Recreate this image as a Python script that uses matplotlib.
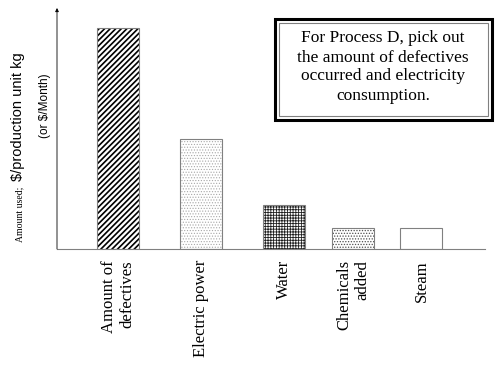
import matplotlib.pyplot as plt
from matplotlib.patches import Rectangle

plt.rcParams['text.parse_math'] = False

categories = ['Amount of\ndefectives', 'Electric power', 'Water', 'Chemicals\nadded', 'Steam']
values = [221, 110, 44, 21, 21]
xpos = [61, 144, 226.5, 296.5, 364.5]
hatches = ['//////', '......', '++++++', '......', '']
hcolors = ['#000000', '#a8a8a8', '#202020', '#505050', '#000000']
hlw = [1.2, 0.5, 0.6, 0.6, 0.5]

serif = 'Liberation Serif'
sans = 'Liberation Sans'

fig = plt.figure(figsize=(5, 3.66), dpi=100)
ax = fig.add_axes([57/500, 1-249/366, 428/500, 241/366])

for x, v, h, c, lw in zip(xpos, values, hatches, hcolors, hlw):
    # hatch takes the edge colour, so draw the hatch and the outline separately
    b = ax.bar(x, v, width=42, color='white', edgecolor=c, hatch=h, linewidth=0)
    b[0].set_hatch_linewidth(lw)
    ax.bar(x, v, width=42, fill=False, edgecolor='#808080', linewidth=0.8)

ax.set_xlim(0, 428)
ax.set_ylim(0, 241)
for s in ['top', 'right', 'left']:
    ax.spines[s].set_visible(False)
ax.spines['bottom'].set_color('#808080')
ax.annotate('', xy=(0, 1), xytext=(0, 0), xycoords='axes fraction',
            arrowprops=dict(arrowstyle='-|>', color='black', lw=0.6,
                            mutation_scale=5, shrinkA=0, shrinkB=0))
ax.set_xticks(xpos)
ax.set_xticklabels(categories, rotation=90, fontfamily=serif, fontsize=12,
                   va='top', ha='center', multialignment='right')
ax.tick_params(axis='x', length=0, pad=8)
ax.set_yticks([])

# y label pieces
fig.text(20/500, 1-214/366, 'Amount used;', rotation=90, fontfamily=serif,
         fontsize=7, ha='center', va='center')
fig.text(18/500, 1-117/366, '$/production unit kg', rotation=90, fontfamily=sans,
         fontsize=10.5, ha='center', va='center')
fig.text(45/500, 1-106/366, '(or $/Month)', rotation=90, fontfamily=sans,
         fontsize=8.5, ha='center', va='center')

# annotation box with double border
fig.add_artist(Rectangle((275/500, 1-120/366), 217/500, 101/366,
                         transform=fig.transFigure, fill=False,
                         edgecolor='black', linewidth=2.2))
fig.add_artist(Rectangle((279/500, 1-116/366), 209/500, 93/366,
                         transform=fig.transFigure, fill=False,
                         edgecolor='#808080', linewidth=0.8))
fig.text(383/500, 1-67/366,
         'For Process D, pick out\nthe amount of defectives\noccurred and electricity\nconsumption.',
         fontfamily=serif, fontsize=12.5, ha='center', va='center',
         linespacing=1.25)

fig.savefig('out.png', dpi=100)
